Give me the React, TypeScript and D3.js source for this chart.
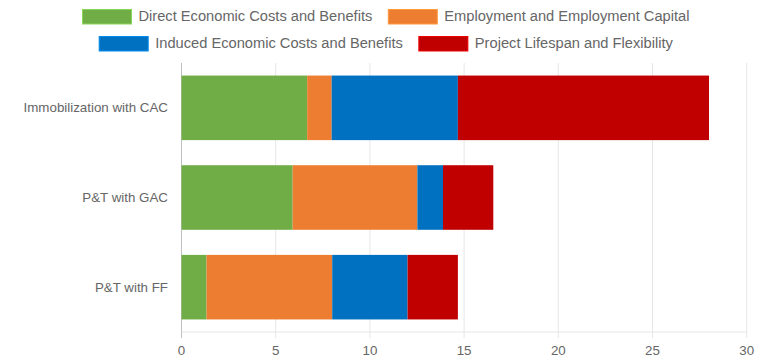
import React, { useMemo } from "react";
import * as d3 from "d3";

const categories = ["Immobilization with CAC", "P&T with GAC", "P&T with FF"];
const seriesNames = [
  "Direct Economic Costs and Benefits",
  "Employment and Employment Capital",
  "Induced Economic Costs and Benefits",
  "Project Lifespan and Flexibility",
];
const directValues = [6.67, 5.9, 1.33];
const employmentValues = [1.3, 6.62, 6.67];
const inducedValues = [6.7, 1.36, 4.0];
const lifespanValues = [13.33, 2.67, 2.67];
const seriesColors = ["#70ad47", "#ed7d31", "#0070c0", "#c00000"];
const xTicks = [0, 5, 10, 15, 20, 25, 30];

const W = 774;
const H = 357;
const FONT = "'Liberation Sans', Arial, sans-serif";
const LEGEND_FS = 14.67;
const AXIS_FS = 13.33;

export default function App() {
  const x = d3.scaleLinear().domain([0, 30]).range([181.5, 746.7]);
  const y = d3
    .scaleBand<string>()
    .domain(categories)
    .range([63, 332])
    .paddingInner(0.28)
    .paddingOuter(0.14);

  const rows = categories.map((c, i) => ({
    cat: c,
    s0: directValues[i],
    s1: employmentValues[i],
    s2: inducedValues[i],
    s3: lifespanValues[i],
  }));
  const stacked = d3.stack<any>().keys(["s0", "s1", "s2", "s3"])(rows);

  const measure = useMemo(() => {
    const cv = document.createElement("canvas");
    const ctx = cv.getContext("2d")!;
    ctx.font = `${LEGEND_FS}px 'Liberation Sans', Arial, sans-serif`;
    return (t: string) => ctx.measureText(t).width;
  }, []);

  const legendRows = [
    [0, 1],
    [2, 3],
  ];
  const boxW = 49;
  const boxH = 14.5;
  const textGap = 7;
  const gap = 16;
  const legendCenter = 386;
  const rowY = [9.5, 36.5];

  return (
    <svg
      width={W}
      height={H}
      style={{ position: "absolute", left: 0, top: 0, background: "#fff" }}
      fontFamily={FONT}
    >
      {/* legend */}
      {legendRows.map((r, ri) => {
        const widths = r.map((si) => boxW + textGap + measure(seriesNames[si]));
        const total = d3.sum(widths) + gap * (r.length - 1);
        let cx = legendCenter - total / 2;
        return r.map((si, k) => {
          const x0 = cx;
          cx += widths[k] + gap;
          return (
            <g key={si}>
              <rect
                x={x0}
                y={rowY[ri]}
                width={boxW}
                height={boxH}
                fill={seriesColors[si]}
                stroke={d3.color(seriesColors[si])!.brighter(0.6).toString()}
                strokeWidth={1}
              />
              <text
                x={x0 + boxW + textGap}
                y={rowY[ri] + 11.2}
                fontSize={LEGEND_FS}
                fill="#666"
              >
                {seriesNames[si]}
              </text>
            </g>
          );
        });
      })}

      {/* grid */}
      {xTicks.map((t) => (
        <line
          key={t}
          x1={x(t)}
          x2={x(t)}
          y1={63}
          y2={338}
          stroke={t === 0 ? "#bfbfbf" : "#e6e6e6"}
          strokeWidth={1}
        />
      ))}
      <line x1={x(0)} x2={x(30)} y1={332} y2={332} stroke="#e6e6e6" strokeWidth={1} />

      {/* bars */}
      {stacked.map((layer, li) =>
        layer.map((d, i) => (
          <rect
            key={`${li}-${i}`}
            x={x(d[0])}
            y={y(categories[i])!}
            width={x(d[1]) - x(d[0])}
            height={y.bandwidth()}
            fill={seriesColors[li]}
          />
        ))
      )}

      {/* y labels */}
      {categories.map((c) => (
        <text
          key={c}
          x={168}
          y={y(c)! + y.bandwidth() / 2 + 4.6}
          textAnchor="end"
          fontSize={AXIS_FS}
          fill="#666"
        >
          {c}
        </text>
      ))}

      {/* x labels */}
      {xTicks.map((t) => (
        <text key={t} x={x(t)} y={355} textAnchor="middle" fontSize={AXIS_FS} fill="#666">
          {t}
        </text>
      ))}
    </svg>
  );
}
